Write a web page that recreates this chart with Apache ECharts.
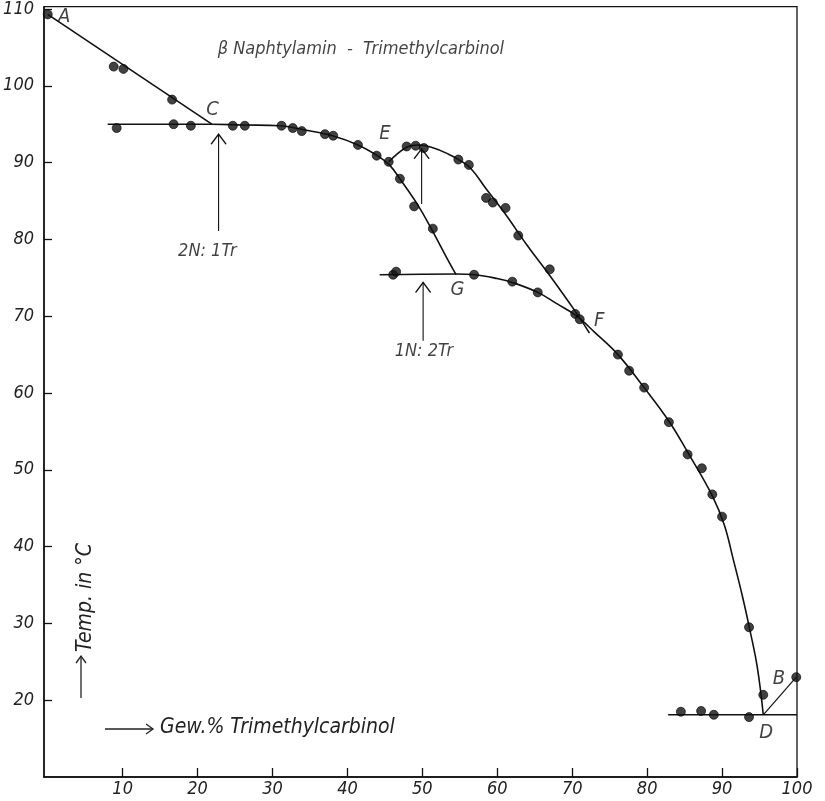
<!DOCTYPE html>
<html>
<head>
<meta charset="utf-8">
<script src="https://cdn.jsdelivr.net/npm/echarts@6/dist/echarts.min.js"></script>
<style>html,body{margin:0;padding:0;background:#fff}#c{width:825px;height:801px}</style>
</head>
<body>
<div id="c"></div>
<script>
// ---- data ----
const xTicks = [10,20,30,40,50,60,70,80,90,100];
const yTicks = [20,30,40,50,60,70,80,90,100,110];

// measured points (Gew.% Trimethylcarbinol, Temp °C)
const pointsAC = [[0,109.3],[8.8,102.5],[10.1,102.2],[16.6,98.2]];
const pointsCE = [[9.2,94.5],[16.8,95.0],[19.1,94.8],[24.7,94.8],[26.3,94.8],[31.2,94.8],[32.7,94.5],[33.9,94.1],[37.0,93.7],[38.1,93.5],[41.4,92.3],[43.9,90.9],[45.5,90.1]];
const pointsEG = [[47.0,87.9],[48.9,84.3],[51.4,81.4]];
const pointsEF = [[47.9,92.1],[49.1,92.2],[50.2,91.9],[54.8,90.4],[56.2,89.7],[58.5,85.4],[59.4,84.8],[61.1,84.1],[62.8,80.5],[67.0,76.1]];
const pointsGF = [[46.1,75.4],[46.5,75.8],[56.9,75.4],[62.0,74.5],[65.4,73.1],[70.4,70.3],[71.0,69.6]];
const pointsFD = [[76.1,65.0],[77.6,62.9],[79.6,60.7],[82.9,56.2],[85.4,52.0],[87.3,50.2],[88.7,46.8],[90.0,43.9],[93.6,29.5],[95.5,20.7]];
const pointsD  = [[84.5,18.5],[87.2,18.6],[88.9,18.1],[93.6,17.8],[99.9,23.0]];

// drawn curves
const curveAC = [[0,109.3],[21.9,95.0]];
const curveCEG = [[8.0,95.0],[21.9,95.0],[26,94.9],[31,94.8],[34,94.3],[38,93.5],[41.4,92.3],[44,90.9],[45.6,89.7],[47.2,87.6],[49.5,84.3],[51.4,81.0],[53.2,77.7],[54.5,75.4]];
const curveEF = [[45.5,90.1],[47.9,92.0],[49.5,92.3],[51.5,91.9],[53.5,91.1],[55,90.3],[56.5,89.2],[58.5,86.6],[61,83.4],[64,79.2],[67,75.3],[70.5,70.5],[72.3,67.8]];
const curveGD = [[44.3,75.4],[54.5,75.5],[57,75.4],[60,74.9],[62,74.4],[65.4,73.1],[68,71.6],[70.5,70.1],[73,67.9],[76.1,65.0],[79.6,60.7],[83,56.2],[85.4,52.3],[88.7,46.6],[90.3,42.8],[91.5,38.3],[92.7,33.6],[93.7,29.2],[94.7,24.3],[95.5,18.1]];
const lineD = [[82.8,18.1],[100,18.1]];
const lineDB = [[95.5,18.1],[99.9,23.0]];

// arrows [x, yFrom, yTo]
const arrows = [[22.8,81.1,93.7],[49.9,84.6,91.8],[50.1,66.8,74.4]];

// text labels [x, y, text]
const letters = [[2.2,109.0,'A'],[22.0,96.9,'C'],[45.0,93.7,'E'],[54.7,73.5,'G'],[73.6,69.4,'F'],[95.9,15.8,'D'],[97.6,22.8,'B']];
const notes = [[21.3,78.4,'2N: 1Tr'],[50.2,65.4,'1N: 2Tr']];
const title = [[41.8,104.8,'β Naphtylamin  -  Trimethylcarbinol']];

const FONT = "'Liberation Sans Narrow','DejaVu Sans Condensed','Roboto',sans-serif";
const chevron = 'path://M0,10 L7,0 L14,10';

const chart = echarts.init(document.getElementById('c'), null, {renderer:'canvas'});

function curve(data){
  return {type:'line', data, smooth:0.4, showSymbol:false, symbol:'none', silent:true,
    lineStyle:{color:'#111', width:1.6}, z:2};
}
function dots(data){
  return {type:'scatter', data, symbol:'circle', symbolSize:9, silent:true,
    itemStyle:{color:'#111', borderColor:'#000', borderWidth:0.8}, z:3};
}
function texts(data, size){
  return {type:'scatter', data, symbolSize:0, silent:true, z:5,
    label:{show:true, position:'inside', formatter:p => p.value[2], color:'#111',
      fontFamily:FONT, fontStyle:'italic', fontSize:size}};
}

const series = [
  curve(curveAC), curve(curveCEG), curve(curveEF), curve(curveGD),
  {type:'line', data:lineD, showSymbol:false, symbol:'none', silent:true, lineStyle:{color:'#111', width:1.4}},
  {type:'line', data:lineDB, showSymbol:false, symbol:'none', silent:true, lineStyle:{color:'#111', width:1.2}},
  dots(pointsAC), dots(pointsCE), dots(pointsEG), dots(pointsEF), dots(pointsGF), dots(pointsFD), dots(pointsD)
];
arrows.forEach(a => {
  series.push({type:'line', data:[[a[0],a[1]],[a[0],a[2]]], silent:true,
    showSymbol:true, showAllSymbol:true,
    symbol:(v, p) => p.dataIndex === 1 ? chevron : 'none',
    symbolSize:[15,10], symbolOffset:[0,'50%'], symbolKeepAspect:false,
    itemStyle:{color:'rgba(0,0,0,0)', borderColor:'#111', borderWidth:1.2},
    lineStyle:{color:'#111', width:1.1}, z:2});
});
series.push(texts(letters, 20), texts(notes, 18), texts(title, 18));

chart.setOption({
  animation:false,
  backgroundColor:'#fff',
  grid:{left:44, right:28, top:5, bottom:24, show:true, borderColor:'#111', borderWidth:1.3, backgroundColor:'transparent'},
  xAxis:{type:'value', min:-0.5, max:100,
    axisLine:{onZero:false, lineStyle:{color:'#111', width:1.5}},
    axisTick:{show:true, inside:true, length:9, customValues:xTicks, lineStyle:{color:'#111', width:1.3}},
    axisLabel:{customValues:xTicks, color:'#222', fontFamily:FONT, fontStyle:'italic', fontSize:18, margin:3},
    splitLine:{show:false}},
  yAxis:{type:'value', min:10, max:110.3,
    axisLine:{show:true, onZero:false, lineStyle:{color:'#111', width:1.5}},
    axisTick:{show:true, inside:true, length:8, customValues:yTicks, lineStyle:{color:'#111', width:1.3}},
    axisLabel:{customValues:yTicks, color:'#222', fontFamily:FONT, fontStyle:'italic', fontSize:18, margin:10},
    splitLine:{show:false}},
  graphic:[
    {type:'line', shape:{x1:105, y1:729, x2:153, y2:729}, style:{stroke:'#222', lineWidth:1.3}},
    {type:'polyline', shape:{points:[[146,724],[153,729],[146,734]]}, style:{stroke:'#222', lineWidth:1.3, fill:null}},
    {type:'text', left:160, top:717, style:{text:'Gew.% Trimethylcarbinol', fill:'#222', font:"italic 21px "+FONT}},
    {type:'line', shape:{x1:81, y1:698, x2:81, y2:656}, style:{stroke:'#222', lineWidth:1.3}},
    {type:'polyline', shape:{points:[[76,663],[81,656],[86,663]]}, style:{stroke:'#222', lineWidth:1.3, fill:null}},
    {type:'text', x:75, y:652, rotation:Math.PI/2, style:{text:'Temp. in °C', fill:'#222', font:"italic 21px "+FONT}}
  ],
  series
});
</script>
</body>
</html>
